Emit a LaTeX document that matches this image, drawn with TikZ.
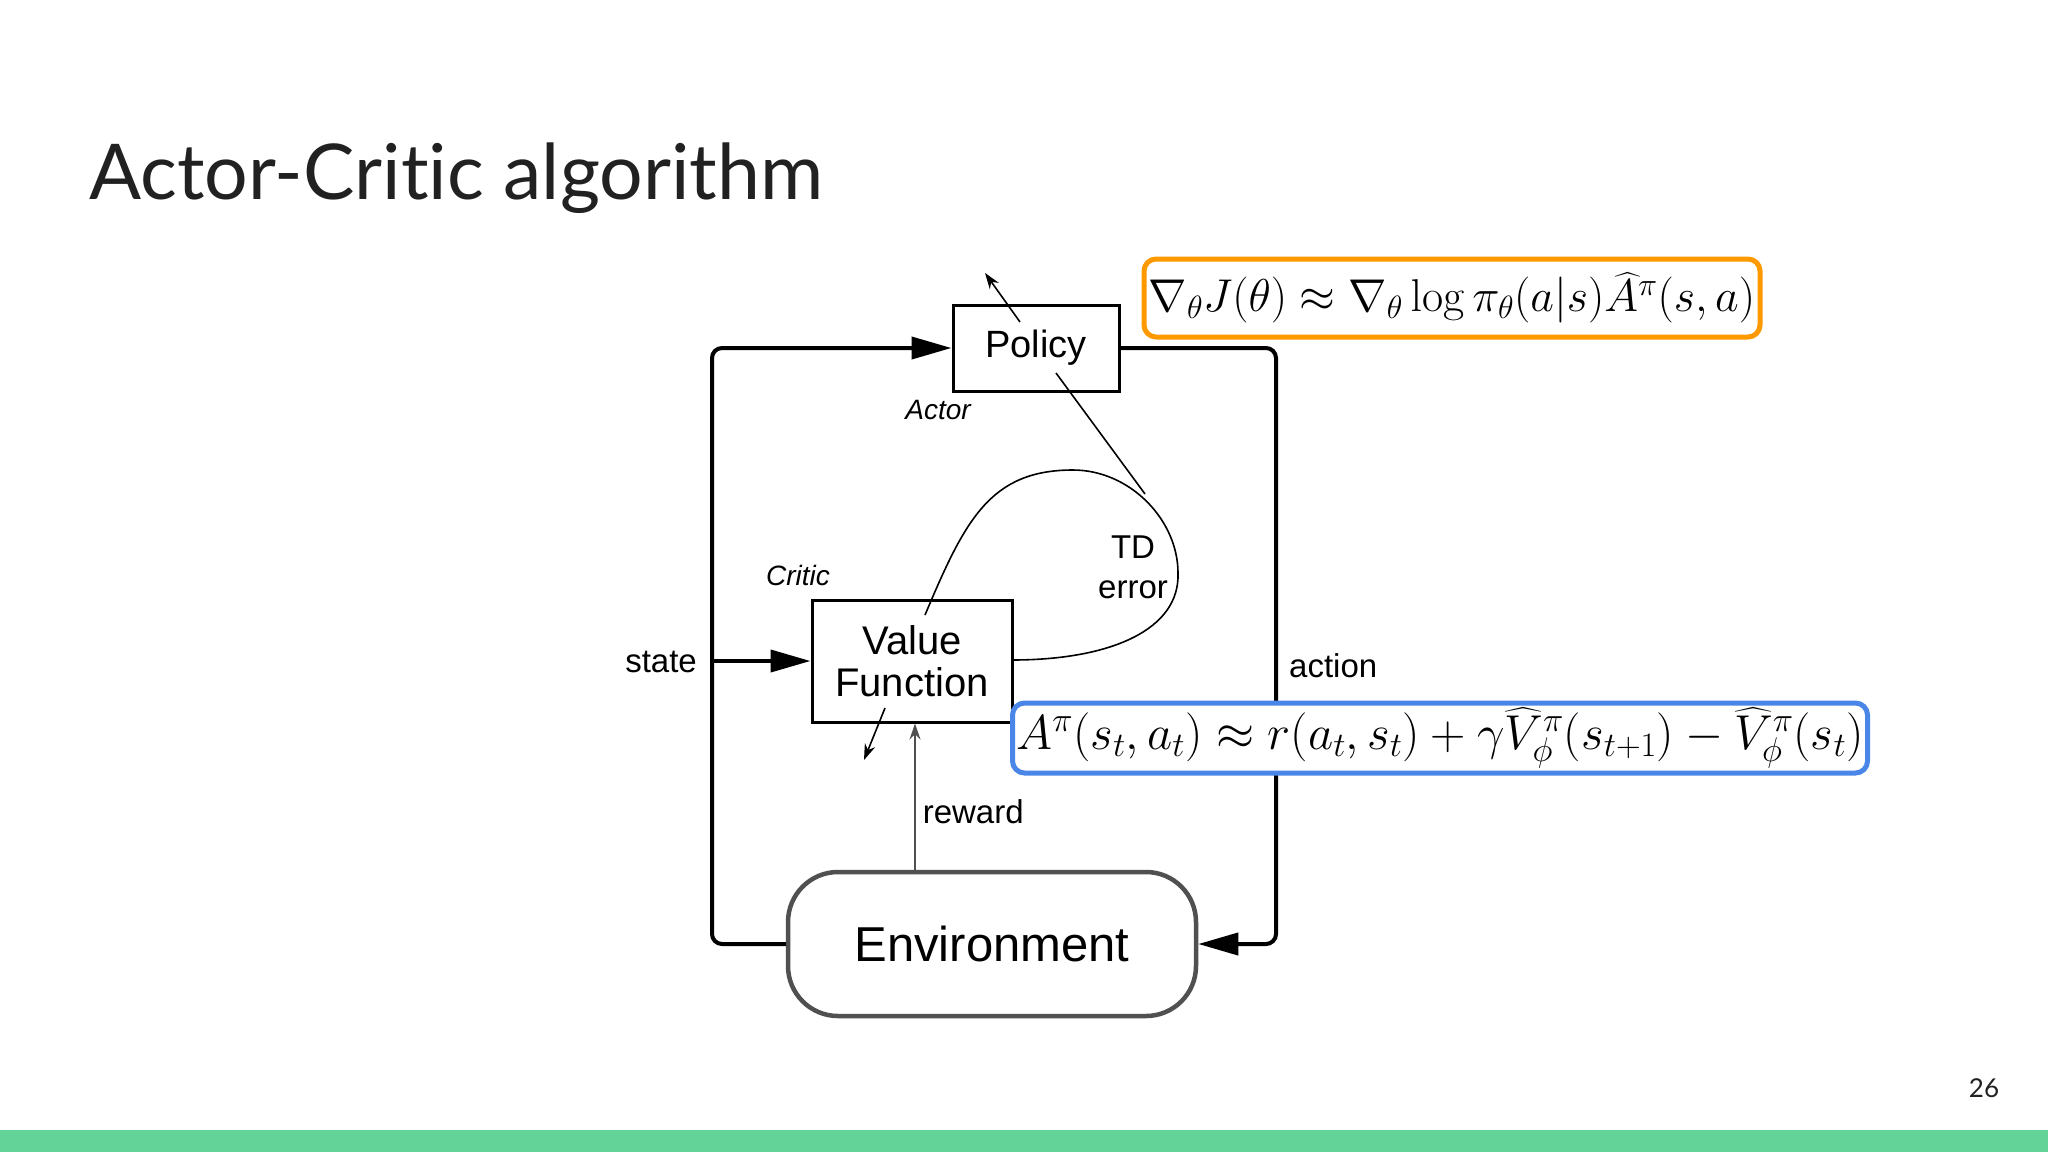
\RequirePackage{fix-cm}
\documentclass[tikz,border=0pt]{standalone}
\usepackage{amsmath}
\usepackage[no-math]{fontspec}
\newfontfamily\diagfont{Liberation Sans}
\newfontfamily\slidefont[Ligatures={NoCommon}]{Lato}
\usetikzlibrary{arrows.meta}
\definecolor{SlideGreen}{RGB}{99,211,151}
\definecolor{BoxOrange}{RGB}{255,153,0}
\definecolor{BoxBlue}{RGB}{74,134,232}
\definecolor{TitleGray}{RGB}{33,33,33}
\definecolor{EnvGray}{RGB}{80,80,80}

\begin{document}
\begin{tikzpicture}[x=1pt, y=-1pt,
                block/.style={draw, line width=3pt, minimum width=166pt, minimum height=86pt, inner sep=0pt, font=\diagfont\fontsize{38}{44}\selectfont, align=center},
                envbox/.style={draw=EnvGray, line width=4.5pt, rounded corners=50pt, minimum width=408pt, minimum height=144pt, font=\diagfont\fontsize{49}{56}\selectfont},
                loopwire/.style={-{Triangle[length=40pt, width=22pt]}, line width=4pt, rounded corners=10pt},
                thinwire/.style={line width=1.6pt},
                tipwire/.style={-{Stealth[length=16pt, width=11pt]}, line width=1.6pt},
                lbl/.style={inner sep=0pt, font=\diagfont\fontsize{33}{40}\selectfont, align=center},
                role/.style={inner sep=0pt, font=\diagfont\itshape\fontsize{28}{32}\selectfont},
                formula/.style={line width=5pt, rounded corners=12pt, fill=white, inner sep=0pt}
            ]
                \useasboundingbox (0,0) rectangle (2048,1152);

                % Slide frame
                \node[anchor=base west, inner sep=0pt, text=TitleGray, font=\slidefont\fontsize{77}{88}\selectfont] (title) at (89,199) {Actor-Critic algorithm};
                \node[text=TitleGray, font=\slidefont\fontsize{26}{30}\selectfont] (pagenum) at (1984,1088) {26};
                \fill[SlideGreen] (0,1130) rectangle (2048,1152);

                % Blocks
                \node[block] (policy) at (1036,348) {Policy};
                \node[block, minimum width=200pt, minimum height=122pt, font=\diagfont\fontsize{40}{42}\selectfont] (value) at (912,661) {Value\\Function};
                \node[envbox] (env) at (992,944) {Environment};

                % Loop rails
                \coordinate (leftx) at (712,0);
                \coordinate (rightx) at (1276,0);
                \draw[loopwire] (env.west) -- (env.west -| leftx) |- (policy.west);
                \draw[loopwire] (value.west -| leftx) -- (value.west);
                \draw[loopwire] (policy.east) -- (policy.east -| rightx) |- (env.east);

                % Reward
                \coordinate (rwd) at (915,0);
                \draw[tipwire, EnvGray] (env.north -| rwd) -- node[lbl, text=black, pos=0.4, anchor=west, xshift=7pt] (reward) {reward} (value.south -| rwd);

                % TD error loop
                \coordinate (tdstart) at (1012,660);
                \coordinate (tdright) at (1178,573);
                \coordinate (tdtop) at (1073,470);
                \coordinate (tdend) at (925,615);
                \draw[thinwire] (tdstart) .. controls (1110,660) and (1180,630) .. (tdright)
                                .. controls (1178,520) and (1130,470) .. (tdtop)
                                .. controls (990,470) and (965,520) .. (tdend);
                \coordinate (touch) at (1145,494);
                \coordinate (policyin) at (1056,373);
                \draw[thinwire] (touch) -- (policyin);

                % Parameter updates
                \coordinate (actorfrom) at (1020,322);
                \coordinate (actorto) at (985,273);
                \draw[tipwire] (actorfrom) -- (actorto);
                \coordinate (criticfrom) at (885,708);
                \coordinate (criticto) at (864,760);
                \draw[tipwire] (criticfrom) -- (criticto);

                % Labels
                \node[lbl, anchor=east] (state) at (697,662) {state};
                \node[lbl, anchor=west] (action) at (1289,666) {action};
                \node[lbl] (tderror) at (1133,567) {TD\\error};
                \node[role] (actor) at (938,410) {Actor};
                \node[role] (critic) at (798,575) {Critic};

                % Formulas
                \node[formula, draw=BoxOrange, minimum width=616pt, minimum height=78pt, font=\fontsize{46}{50}\selectfont] (gradient) at (1452,298)
                    {$\nabla_\theta J(\theta) \approx \nabla_\theta \log \pi_\theta(a|s)\widehat{A}^\pi(s,a)$};
                \node[formula, draw=BoxBlue, minimum width=855pt, minimum height=70pt, font=\fontsize{49}{52}\selectfont] (advantage) at (1440,738)
                    {$A^\pi(s_t,a_t) \approx r(a_t,s_t) + \gamma\widehat{V}^\pi_\phi(s_{t+1}) - \widehat{V}^\pi_\phi(s_t)$};
            \end{tikzpicture}
\end{document}
